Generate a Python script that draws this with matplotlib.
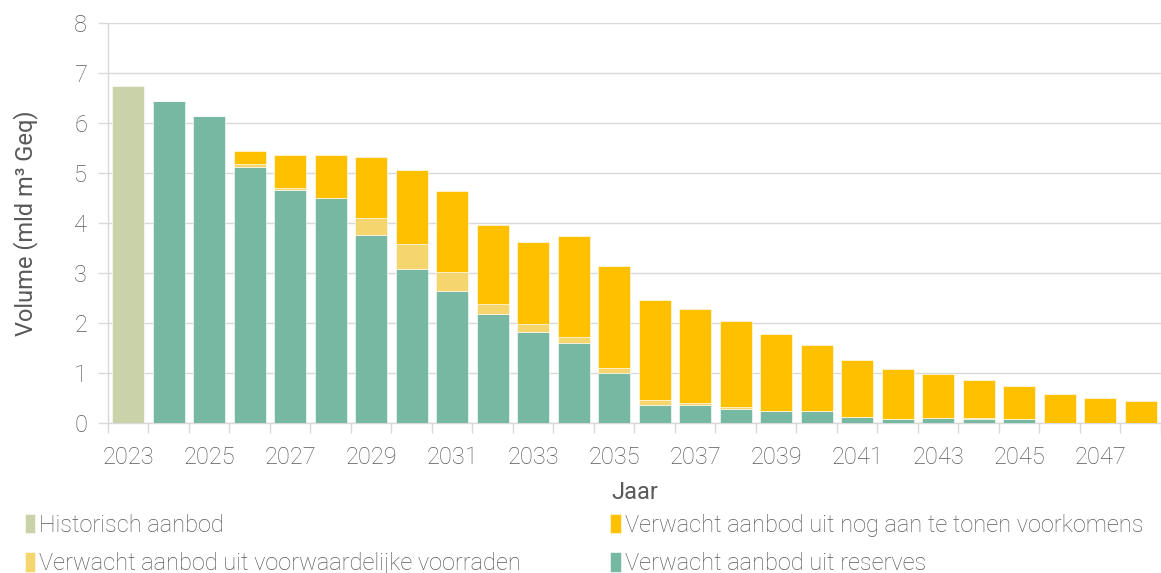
import matplotlib
matplotlib.use("Agg")
import matplotlib.pyplot as plt
import numpy as np

# Jaren en waarden (mld m3 Geq)
jaren = list(range(2023, 2049))
historisch = [6.73] + [0] * 25
reserves = [0, 6.43, 6.14, 5.11, 4.65, 4.49, 3.75, 3.08, 2.63, 2.17, 1.81, 1.60, 0.99,
            0.36, 0.35, 0.27, 0.23, 0.23, 0.11, 0.07, 0.09, 0.08, 0.07, 0, 0, 0]
voorwaardelijk = [0, 0, 0, 0.07, 0.04, 0.01, 0.35, 0.49, 0.38, 0.21, 0.16, 0.12, 0.10,
                  0.09, 0.05, 0.04, 0.01, 0.01, 0.01, 0.01, 0.01, 0.01, 0.01, 0, 0, 0]
nog_te_tonen = [0, 0, 0, 0.26, 0.67, 0.86, 1.22, 1.48, 1.62, 1.58, 1.64, 2.01, 2.05,
                2.01, 1.87, 1.72, 1.53, 1.31, 1.14, 0.99, 0.87, 0.76, 0.66, 0.57, 0.49, 0.43]

kleur_hist = "#C9D2A8"
kleur_res = "#77B8A2"
kleur_vw = "#F5D56E"
kleur_nog = "#FFC000"
grijs = "#595959"

plt.rcParams["font.family"] = ["Roboto", "DejaVu Sans"]
plt.rcParams["font.weight"] = "light"
fs = 17

fig = plt.figure(figsize=(11.61, 5.73), dpi=100)
ax = fig.add_axes([0.093, 0.262, 0.907, 0.698])

x = np.arange(len(jaren))
w = 0.79
res = np.array(reserves)
vw = np.array(voorwaardelijk)
nog = np.array(nog_te_tonen)

b1 = ax.bar(x, historisch, w, color=kleur_hist, edgecolor="white", linewidth=0.4, zorder=3)
b4 = ax.bar(x, res, w, color=kleur_res, edgecolor="white", linewidth=0.4, zorder=3)
b2 = ax.bar(x, vw, w, bottom=res, color=kleur_vw, edgecolor="white", linewidth=0.4, zorder=3)
b3 = ax.bar(x, nog, w, bottom=res + vw, color=kleur_nog, edgecolor="white", linewidth=0.4, zorder=3)

ax.set_xlim(-0.5, len(jaren) - 0.5)
ax.set_ylim(0, 8)
ax.set_yticks(range(0, 9))
ax.yaxis.grid(True, color="#D9D9D9", linewidth=1, zorder=0)
ax.set_axisbelow(True)

# labels elke twee jaar, streepjes tussen de categorieen
ax.set_xticks(x[::2])
ax.set_xticklabels([str(j) for j in jaren[::2]])
ax.set_xticks(np.arange(-0.5, len(jaren), 1), minor=True)
ax.tick_params(axis="x", which="major", length=0, pad=17)
ax.tick_params(axis="x", which="minor", length=7, color="#D9D9D9", width=1)
ax.tick_params(axis="y", length=7, color="#D9D9D9", width=1, pad=8)
ax.tick_params(labelsize=fs, labelcolor=grijs)

for s in ["top", "right"]:
    ax.spines[s].set_visible(False)
for s in ["left", "bottom"]:
    ax.spines[s].set_color("#D9D9D9")
    ax.spines[s].set_linewidth(1)

ax.set_xlabel("Jaar", fontsize=fs, color=grijs, labelpad=8)
ax.set_ylabel("Volume (mld m³ Geq)", fontsize=fs, color=grijs, labelpad=26)

handles = [b1, b2, b3, b4]
labels = ["Historisch aanbod",
          "Verwacht aanbod uit voorwaardelijke voorraden",
          "Verwacht aanbod uit nog aan te tonen voorkomens",
          "Verwacht aanbod uit reserves"]
leg = fig.legend(handles, labels, ncol=2, loc="center left", bbox_to_anchor=(0.003, 0.05),
                 frameon=False, fontsize=fs, handlelength=0.45, handleheight=0.9,
                 handletextpad=0.15, columnspacing=3.8, labelspacing=0.66)
for t in leg.get_texts():
    t.set_color(grijs)

fig.savefig("out.png", dpi=100)
